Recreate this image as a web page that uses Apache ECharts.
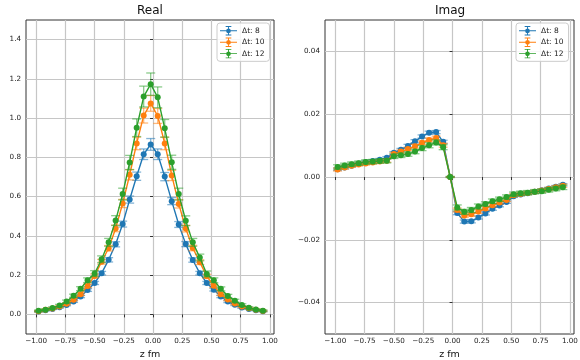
<!DOCTYPE html>
<html>
<head>
<meta charset="utf-8">
<script src="https://cdn.jsdelivr.net/npm/echarts@6/dist/echarts.min.js"></script>
<style>
  html, body { margin: 0; padding: 0; background: #fff; }
  #chart { width: 580px; height: 360px; }
</style>
</head>
<body>
<div id="chart"></div>
<script>
// z positions (fm), shared by every series
const zPos = [-0.98, -0.92, -0.86, -0.80, -0.74, -0.68, -0.62, -0.56, -0.50, -0.44, -0.38,
  -0.32, -0.26, -0.20, -0.14, -0.08, -0.02, 0.04, 0.10, 0.16, 0.22, 0.28, 0.34, 0.40,
  0.46, 0.52, 0.58, 0.64, 0.70, 0.76, 0.82, 0.88, 0.94];

const seriesNames = ['Δt: 8', 'Δt: 10', 'Δt: 12'];
const colors = ['#1f77b4', '#ff7f0e', '#2ca02c'];

// Real part
const realDt8 = [0.015, 0.021, 0.028, 0.036, 0.048, 0.066, 0.091, 0.124, 0.160, 0.210, 0.278,
  0.357, 0.460, 0.585, 0.704, 0.816, 0.866, 0.816, 0.702, 0.577, 0.458, 0.358, 0.277, 0.210,
  0.160, 0.126, 0.091, 0.065, 0.049, 0.035, 0.028, 0.021, 0.016];
const realDt10 = [0.016, 0.024, 0.030, 0.040, 0.054, 0.075, 0.103, 0.145, 0.196, 0.268, 0.337,
  0.438, 0.565, 0.711, 0.871, 1.013, 1.075, 1.011, 0.871, 0.708, 0.563, 0.437, 0.338, 0.266,
  0.194, 0.146, 0.103, 0.076, 0.055, 0.040, 0.031, 0.024, 0.017];
const realDt12 = [0.018, 0.024, 0.033, 0.045, 0.066, 0.095, 0.131, 0.174, 0.208, 0.281, 0.367,
  0.478, 0.613, 0.774, 0.951, 1.110, 1.173, 1.106, 0.948, 0.775, 0.613, 0.477, 0.367, 0.290,
  0.206, 0.174, 0.130, 0.094, 0.070, 0.048, 0.034, 0.025, 0.019];

const realErr8 = [0.003, 0.003, 0.003, 0.004, 0.004, 0.005, 0.006, 0.007, 0.008, 0.009, 0.011,
  0.013, 0.015, 0.018, 0.021, 0.027, 0.030, 0.027, 0.021, 0.018, 0.015, 0.013, 0.011, 0.009,
  0.008, 0.007, 0.006, 0.005, 0.004, 0.004, 0.003, 0.003, 0.003];
const realErr10 = [0.003, 0.003, 0.004, 0.004, 0.005, 0.006, 0.007, 0.009, 0.010, 0.012, 0.014,
  0.017, 0.021, 0.026, 0.032, 0.038, 0.040, 0.038, 0.032, 0.026, 0.021, 0.017, 0.014, 0.012,
  0.010, 0.009, 0.007, 0.006, 0.005, 0.004, 0.004, 0.003, 0.003];
const realErr12 = [0.004, 0.004, 0.005, 0.006, 0.007, 0.008, 0.010, 0.012, 0.015, 0.017, 0.020,
  0.025, 0.030, 0.036, 0.045, 0.053, 0.057, 0.053, 0.045, 0.036, 0.030, 0.025, 0.020, 0.017,
  0.015, 0.012, 0.010, 0.008, 0.007, 0.006, 0.005, 0.004, 0.004];

// Imaginary part
const imagDt8 = [0.0025, 0.0030, 0.0036, 0.0042, 0.0047, 0.0051, 0.0055, 0.0061, 0.0077, 0.0087,
  0.0099, 0.0114, 0.0129, 0.0141, 0.0143, 0.0112, 0, -0.0115, -0.0142, -0.0141, -0.0129,
  -0.0116, -0.0101, -0.0091, -0.0080, -0.0061, -0.0056, -0.0052, -0.0047, -0.0042, -0.0037,
  -0.0031, -0.0025];
const imagDt10 = [0.0024, 0.0030, 0.0036, 0.0040, 0.0043, 0.0046, 0.0049, 0.0052, 0.0073, 0.0081,
  0.0089, 0.0098, 0.0109, 0.0118, 0.0124, 0.0101, 0, -0.0105, -0.0123, -0.0119, -0.0110,
  -0.0100, -0.0090, -0.0081, -0.0073, -0.0058, -0.0054, -0.0051, -0.0047, -0.0043, -0.0038,
  -0.0033, -0.0028];
const imagDt12 = [0.0032, 0.0037, 0.0041, 0.0044, 0.0048, 0.0049, 0.0051, 0.0052, 0.0066, 0.0069,
  0.0073, 0.0081, 0.0092, 0.0101, 0.0110, 0.0095, 0, -0.0097, -0.0111, -0.0105, -0.0094,
  -0.0086, -0.0077, -0.0071, -0.0064, -0.0055, -0.0052, -0.0050, -0.0047, -0.0045, -0.0041,
  -0.0037, -0.0033];

const imagErr8 = [0.0004, 0.0004, 0.0004, 0.0004, 0.0004, 0.0004, 0.0004, 0.0004, 0.0004, 0.0004,
  0.0005, 0.0005, 0.0005, 0.0005, 0.0005, 0.0005, 0.0001, 0.0005, 0.0005, 0.0005, 0.0005,
  0.0005, 0.0005, 0.0004, 0.0004, 0.0004, 0.0004, 0.0004, 0.0004, 0.0004, 0.0004, 0.0004, 0.0004];
const imagErr10 = [0.0005, 0.0005, 0.0005, 0.0005, 0.0005, 0.0005, 0.0005, 0.0005, 0.0005, 0.0005,
  0.0005, 0.0006, 0.0006, 0.0006, 0.0006, 0.0006, 0.0001, 0.0006, 0.0006, 0.0006, 0.0006,
  0.0006, 0.0005, 0.0005, 0.0005, 0.0005, 0.0005, 0.0005, 0.0005, 0.0005, 0.0005, 0.0005, 0.0005];
const imagErr12 = [0.0007, 0.0007, 0.0007, 0.0007, 0.0007, 0.0007, 0.0007, 0.0007, 0.0007, 0.0007,
  0.0007, 0.0007, 0.0008, 0.0008, 0.0008, 0.0008, 0.0002, 0.0008, 0.0008, 0.0008, 0.0008,
  0.0007, 0.0007, 0.0007, 0.0007, 0.0007, 0.0007, 0.0007, 0.0007, 0.0007, 0.0007, 0.0007, 0.0007];

// Tick positions
const xTicks = [-1.0, -0.75, -0.5, -0.25, 0.0, 0.25, 0.5, 0.75, 1.0];
const realTicks = [0.0, 0.2, 0.4, 0.6, 0.8, 1.0, 1.2, 1.4];
const imagTicks = [-0.04, -0.02, 0.0, 0.02, 0.04];

const FONT = 'DejaVu Sans';
const minus = s => s.replace('-', '\u2212');

function pairs(ys) { return zPos.map((x, i) => [x, ys[i]]); }
function bars(ys, es) { return zPos.map((x, i) => [x, ys[i] - es[i], ys[i] + es[i]]); }

function errorSeries(idx, ys, es, color) {
  return {
    type: 'custom',
    xAxisIndex: idx, yAxisIndex: idx,
    data: bars(ys, es),
    silent: true,
    renderItem: function (params, api) {
      const x = api.value(0);
      const top = api.coord([x, api.value(2)]);
      const bot = api.coord([x, api.value(1)]);
      const cap = 4.5;
      const style = { stroke: color, lineWidth: 1.3, opacity: 0.55 };
      return {
        type: 'group',
        children: [
          { type: 'line', shape: { x1: top[0], y1: top[1], x2: bot[0], y2: bot[1] }, style: style },
          { type: 'line', shape: { x1: top[0] - cap, y1: top[1], x2: top[0] + cap, y2: top[1] }, style: style },
          { type: 'line', shape: { x1: bot[0] - cap, y1: bot[1], x2: bot[0] + cap, y2: bot[1] }, style: style }
        ]
      };
    }
  };
}

function lineSeries(idx, name, ys, color) {
  return {
    type: 'line',
    name: name,
    xAxisIndex: idx, yAxisIndex: idx,
    data: pairs(ys),
    symbol: 'circle',
    symbolSize: 6,
    showSymbol: true,
    lineStyle: { color: color, width: 1.4 },
    itemStyle: { color: color, borderWidth: 0 }
  };
}

function xAxisDef(idx) {
  return {
    type: 'value', gridIndex: idx,
    min: -1.087, max: 1.035,
    name: 'z fm', nameLocation: 'middle', nameGap: 16,
    nameTextStyle: { fontFamily: FONT, fontSize: 9.5, color: '#111' },
    axisLine: { show: false },
    axisTick: { show: true, customValues: xTicks, length: 3, lineStyle: { color: '#333' } },
    axisLabel: {
      customValues: xTicks, fontFamily: FONT, fontSize: 7.2, color: '#222', margin: 4,
      formatter: v => minus(v.toFixed(2))
    },
    splitLine: { show: true, lineStyle: { color: '#c6c6c6', width: 1.2 } }
  };
}

function yAxisDef(idx, min, max, ticks, digits) {
  return {
    type: 'value', gridIndex: idx,
    min: min, max: max,
    axisLine: { show: false },
    axisTick: { show: true, customValues: ticks, length: 3, lineStyle: { color: '#333' } },
    axisLabel: {
      customValues: ticks, fontFamily: FONT, fontSize: 7.2, color: '#222', margin: 5,
      formatter: v => minus(v.toFixed(digits))
    },
    splitLine: { show: true, lineStyle: { color: '#c6c6c6', width: 1.2 } }
  };
}

// Legend icon: line, marker and error bar with caps
const errIcon = 'path://M0 9H36V11H0Z M17 0H19V20H17Z M12 0H24V2H12Z M12 18H24V20H12Z M23 10A5 5 0 1 1 22.99 9.9Z';

function legendDef(left) {
  return {
    left: left, top: 23,
    orient: 'vertical',
    data: seriesNames.map(n => ({ name: n, icon: errIcon })),
    itemWidth: 17, itemHeight: 10, itemGap: 2,
    padding: [3, 5, 3, 3],
    borderColor: '#cccccc', borderWidth: 1, borderRadius: 3,
    backgroundColor: 'rgba(255,255,255,0.85)',
    textStyle: { fontFamily: FONT, fontSize: 7.5, color: '#222' },
    selectedMode: false
  };
}

const realVals = [realDt8, realDt10, realDt12];
const realErrs = [realErr8, realErr10, realErr12];
const imagVals = [imagDt8, imagDt10, imagDt12];
const imagErrs = [imagErr8, imagErr10, imagErr12];

const series = [];
for (let k = 0; k < 3; k++) {
  series.push(errorSeries(0, realVals[k], realErrs[k], colors[k]));
  series.push(lineSeries(0, seriesNames[k], realVals[k], colors[k]));
}
for (let k = 0; k < 3; k++) {
  series.push(errorSeries(1, imagVals[k], imagErrs[k], colors[k]));
  series.push(lineSeries(1, seriesNames[k], imagVals[k], colors[k]));
}
// later series draw on top
series.forEach((s, i) => { s.z = 2 + (i % 6); });

const gridBase = {
  top: 20, height: 314, show: true, borderColor: '#333', borderWidth: 1,
  backgroundColor: 'transparent', containLabel: false, outerBoundsMode: 'none'
};

const chart = echarts.init(document.getElementById('chart'), null, { renderer: 'canvas' });
chart.setOption({
  animation: false,
  backgroundColor: '#ffffff',
  title: [
    { text: 'Real', left: 150, top: 5, textAlign: 'center', padding: 0,
      textStyle: { fontFamily: FONT, fontSize: 12, fontWeight: 'normal', color: '#111' } },
    { text: 'Imag', left: 450, top: 5, textAlign: 'center', padding: 0,
      textStyle: { fontFamily: FONT, fontSize: 12, fontWeight: 'normal', color: '#111' } }
  ],
  legend: [legendDef(217), legendDef(516)],
  grid: [
    Object.assign({ left: 26, width: 248 }, gridBase),
    Object.assign({ left: 325, width: 249 }, gridBase)
  ],
  xAxis: [xAxisDef(0), xAxisDef(1)],
  yAxis: [
    yAxisDef(0, -0.1, 1.5, realTicks, 1),
    yAxisDef(1, -0.05, 0.05, imagTicks, 2)
  ],
  series: series
});
</script>
</body>
</html>
